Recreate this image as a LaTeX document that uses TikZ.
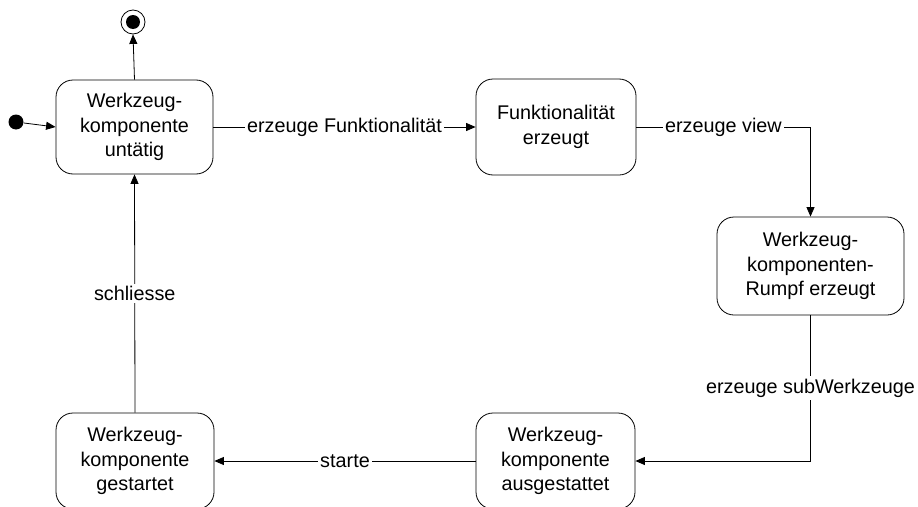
\documentclass[tikz,border=0pt]{standalone}
\usepackage{fontspec}
\setmainfont{Liberation Sans}
\usetikzlibrary{arrows.meta}
\begin{document}
\begin{tikzpicture}[x=1pt,y=-1pt,
  line width=0.8pt,
  >={Triangle[length=9.5pt,width=8pt]},
  state/.style={draw, rounded corners=17pt, align=center, inner sep=0pt,
    font=\fontsize{19.8}{24.5}\selectfont},
  lbl/.style={fill=white, inner sep=2.5pt, font=\fontsize{19.8}{23}\selectfont},
  conn/.style={->}
]
\useasboundingbox (0,0) rectangle (918,506);

\node[state, minimum width=157pt, minimum height=94pt] (b1) at (134.5,127) {Werkzeug-\\komponente\\untätig};
\node[state, minimum width=160pt, minimum height=96pt] (b2) at (556,127) {Funktionalität\\erzeugt};
\node[state, minimum width=187pt, minimum height=98pt] (b3) at (810.5,266) {Werkzeug-\\komponenten-\\Rumpf erzeugt};
\node[state, minimum width=158pt, minimum height=96pt] (b4) at (135,461) {Werkzeug-\\komponente\\gestartet};
\node[state, minimum width=159pt, minimum height=96pt] (b5) at (555.5,461) {Werkzeug-\\komponente\\ausgestattet};

\node[circle, fill, inner sep=0pt, minimum size=15pt] (init) at (16,122) {};
\node[circle, draw, inner sep=0pt, minimum size=24pt] (fin) at (133,22) {};
\fill (fin.center) circle (7pt);

\draw[conn] (init) -- (b1.west);
\draw[conn] (b1.north) -- (fin.south);
\draw[conn] (b1.east) -- node[lbl] {erzeuge Funktionalität} (b2.west);
\draw[conn] (b2.east) -| node[lbl, pos=0.25] {erzeuge view} (b3.north);
\draw[conn] (b3.south) |- node[lbl, pos=0.25] {erzeuge subWerkzeuge} (b5.east);
\draw[conn] (b5.west) -- node[lbl] {starte} (b4.east);
\draw[conn] (b4.north) -- node[lbl] {schliesse} (b1.south);
\end{tikzpicture}
\end{document}
